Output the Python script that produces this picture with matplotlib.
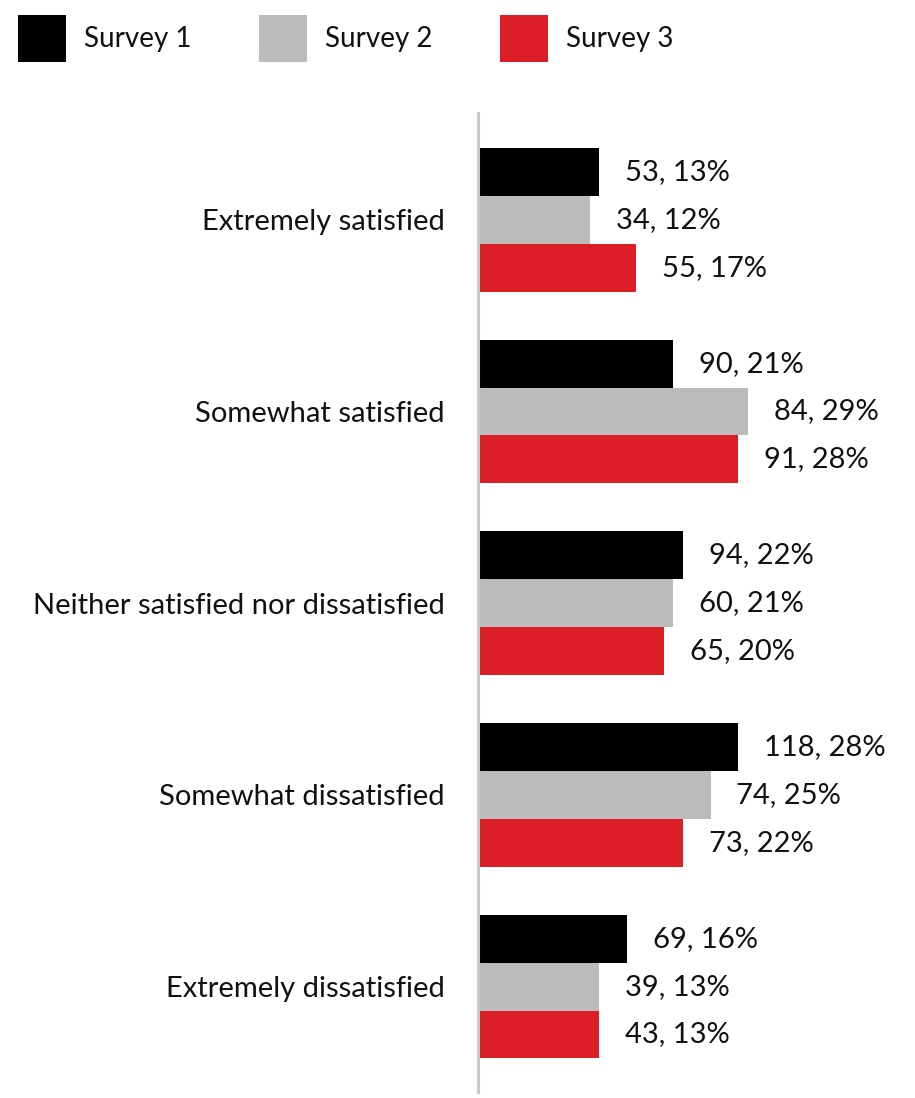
import matplotlib
matplotlib.use("Agg")
import matplotlib.pyplot as plt
import numpy as np
from matplotlib.patches import Rectangle

plt.rcParams['font.family'] = ['Lato', 'DejaVu Sans']

categories = ["Extremely satisfied", "Somewhat satisfied",
              "Neither satisfied nor dissatisfied", "Somewhat dissatisfied",
              "Extremely dissatisfied"]
series = ["Survey 1", "Survey 2", "Survey 3"]
counts_s1 = [53, 90, 94, 118, 69]
pct_s1 = [13, 21, 22, 28, 16]
counts_s2 = [34, 84, 60, 74, 39]
pct_s2 = [12, 29, 21, 25, 13]
counts_s3 = [55, 91, 65, 73, 43]
pct_s3 = [17, 28, 20, 22, 13]
colors = ["#000000", "#bcbbb9", "#dc1f26"]

W, H = 915, 1098
fig = plt.figure(figsize=(W / 100, H / 100), dpi=100)
ax = fig.add_axes([478 / W, 1 - 1092 / H, (W - 478) / W, (1092 - 113) / H])

y = np.arange(len(categories))
h = 0.25
offsets = [-h, 0, h]
all_counts = [counts_s1, counts_s2, counts_s3]
all_pcts = [pct_s1, pct_s2, pct_s3]
for i in range(3):
    ax.barh(y + offsets[i], all_pcts[i], height=h, color=colors[i], linewidth=0)
    for yy, c, p in zip(y + offsets[i], all_counts[i], all_pcts[i]):
        ax.annotate(f"{c}, {p}%", xy=(p, yy), xytext=(26, 0), textcoords="offset pixels",
                    va="center", ha="left", fontsize=21, color="#111111")

ax.set_xlim(0, (W - 478) / 9.3)
ax.set_ylim(len(categories) - 1 + 0.55, -0.557)
for s in ["top", "right", "bottom"]:
    ax.spines[s].set_visible(False)
ax.spines["left"].set_color("#c8c8c8")
ax.spines["left"].set_linewidth(2.2)
ax.set_xticks([])
ax.set_yticks(y)
ax.set_yticklabels(categories, fontsize=21, color="#111111")
ax.tick_params(axis="y", length=0, pad=24)

# legend
sq_x = [18, 259, 500]
for i, name in enumerate(series):
    fig.patches.append(Rectangle((sq_x[i] / W, 1 - 62 / H), 48 / W, 47 / H,
                                 transform=fig.transFigure, color=colors[i], linewidth=0))
    fig.text((sq_x[i] + 66) / W, 1 - 39 / H, name, fontsize=20, va="center", ha="left",
             color="#111111")

fig.savefig("out.png", dpi=100)
